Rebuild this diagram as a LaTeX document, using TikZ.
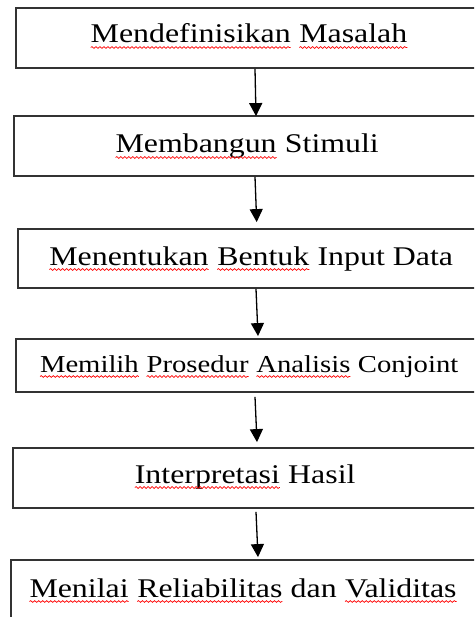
\documentclass[tikz,border=0pt]{standalone}
\usepackage{fontspec}
\setmainfont{Liberation Serif}[FakeStretch=1.18]
\usetikzlibrary{arrows.meta,decorations.pathmorphing}

% word with a red wavy spell-check underline
\newcommand\sq[1]{\tikz[baseline=(w.base),x=1pt,y=1pt]{%
  \node[inner sep=0pt,outer sep=0pt,draw=none,anchor=base](w){#1};%
  \draw[red,line width=0.7pt,decorate,decoration={snake,segment length=4pt,amplitude=0.9pt}]
    ([yshift=-4.5pt]w.base west)--([yshift=-4.5pt]w.base east);}}

\tikzset{
  stepbox/.style={draw=black!80,line width=1.8pt,inner sep=0pt,minimum width=484pt},
  steptext/.style={anchor=base,inner sep=0pt,font=\fontsize{27}{30}\selectfont},
  arr/.style={line width=1.3pt,-{Triangle[width=13pt,length=13pt]}}
}

\begin{document}
\begin{tikzpicture}[x=1pt,y=-1pt]
\useasboundingbox (0,0) rectangle (474,617);
\clip (0,0) rectangle (474,617);
\fill[white] (0,0) rectangle (474,617);

% boxes (right side runs past the page edge)
\node[stepbox,minimum height=60pt] (b1) at (258,38) {};
\node[stepbox,minimum height=60pt] (b2) at (256,146) {};
\node[stepbox,minimum height=59pt] (b3) at (260,258.5) {};
\node[stepbox,minimum height=53pt] (b4) at (258,365.5) {};
\node[stepbox,minimum height=60pt] (b5) at (255,478) {};
\node[stepbox,minimum height=80pt] (b6) at (253,600) {};

% labels
\node[steptext] (t1) at (249,43) {\sq{Mendefinisikan} \sq{Masalah}};
\node[steptext] (t2) at (247,153) {\sq{Membangun} Stimuli};
\node[steptext] (t3) at (251,265) {\sq{Menentukan} \sq{Bentuk} Input Data};
\node[steptext,font=\fontsize{24.3}{28}\selectfont] (t4) at (249,372) {\sq{Memilih} \sq{Prosedur} \sq{Analisis} Conjoint};
\node[steptext] (t5) at (245,483) {\sq{Interpretasi} Hasil};
\node[steptext] (t6) at (243,597) {\sq{Menilai} \sq{Reliabilitas} dan \sq{Validitas}};

% connectors
\draw[arr] ([xshift=-3pt]b1.south) -- ([xshift=0pt,yshift=-1pt]b2.north);
\draw[arr] ([xshift=-1pt]b2.south) -- ([xshift=-3.3pt,yshift=6pt]b3.north);
\draw[arr] ([xshift=-4pt]b3.south) -- ([xshift=0pt,yshift=2pt]b4.north);
\draw[arr] ([xshift=-3pt,yshift=-4pt]b4.south) -- ([xshift=2pt,yshift=5pt]b5.north);
\draw[arr] ([xshift=1pt,yshift=-3pt]b5.south) -- ([xshift=5pt,yshift=2pt]b6.north);
\end{tikzpicture}
\end{document}
